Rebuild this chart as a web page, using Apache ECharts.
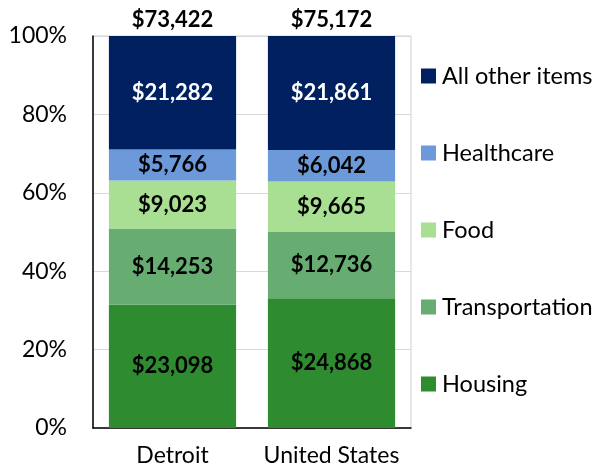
<!DOCTYPE html>
<html>
<head>
<meta charset="utf-8">
<script src="https://cdn.jsdelivr.net/npm/echarts@6/dist/echarts.min.js"></script>
<style>
  html, body { margin: 0; padding: 0; background: #fff; }
  #chart { width: 604px; height: 467px; }
</style>
</head>
<body>
<div id="chart"></div>
<script>
// Annual spending by category, in dollars
const categories = ['Detroit', 'United States'];
const housing = [23098, 24868];
const transportation = [14253, 12736];
const food = [9023, 9665];
const healthcare = [5766, 6042];
const otherItems = [21282, 21861];
const yTicks = [0, 20, 40, 60, 80, 100];

const seriesDefs = [
  { name: 'Housing', values: housing, color: '#2E8B30', labelColor: '#000' },
  { name: 'Transportation', values: transportation, color: '#67AD72', labelColor: '#000' },
  { name: 'Food', values: food, color: '#A9DF92', labelColor: '#000' },
  { name: 'Healthcare', values: healthcare, color: '#6C99DA', labelColor: '#000' },
  { name: 'All other items', values: otherItems, color: '#002060', labelColor: '#fff' }
];

const totals = categories.map((_, i) =>
  seriesDefs.reduce((s, d) => s + d.values[i], 0));

const money = v => '$' + v.toLocaleString('en-US');
const FONT = 'Lato';

const series = seriesDefs.map(d => ({
  name: d.name,
  type: 'bar',
  stack: 'total',
  barWidth: '80%',
  itemStyle: { color: d.color },
  data: d.values.map((v, i) => ({ value: v / totals[i] * 100, raw: v })),
  label: {
    show: true,
    position: 'inside',
    color: d.labelColor,
    fontFamily: FONT,
    fontWeight: 'bold',
    fontSize: 22,
    formatter: p => money(p.data.raw)
  }
}));

// Zero-height cap that carries the total above each bar
series.push({
  name: 'Total',
  type: 'bar',
  stack: 'total',
  barWidth: '80%',
  data: totals.map(t => ({ value: 0, raw: t })),
  label: {
    show: true,
    position: 'top',
    distance: 5,
    color: '#000',
    fontFamily: FONT,
    fontWeight: 'bold',
    fontSize: 22,
    formatter: p => money(p.data.raw)
  }
});

const chart = echarts.init(document.getElementById('chart'), null, { renderer: 'canvas' });
chart.setOption({
  animation: false,
  backgroundColor: '#fff',
  grid: { left: 93, right: 193, top: 36, bottom: 36, show: true, borderColor: '#d0d0d0', borderWidth: 1 },
  legend: {
    orient: 'vertical',
    left: 416,
    top: 59,
    itemWidth: 15,
    itemHeight: 15,
    itemGap: 53,
    icon: 'rect',
    data: ['All other items', 'Healthcare', 'Food', 'Transportation', 'Housing'],
    textStyle: { fontFamily: FONT, fontSize: 23.5, color: '#000', lineHeight: 20, padding: [0, 0, 0, 1] }
  },
  xAxis: {
    type: 'category',
    data: categories,
    axisLine: { lineStyle: { color: '#000', width: 1.5 } },
    axisTick: { show: false },
    axisLabel: { interval: 0, fontFamily: FONT, fontSize: 23, color: '#000', margin: 16 }
  },
  yAxis: {
    type: 'value',
    min: yTicks[0],
    max: yTicks[yTicks.length - 1],
    interval: yTicks[1] - yTicks[0],
    axisLine: { show: true, lineStyle: { color: '#000', width: 1.5 } },
    axisTick: { show: false },
    splitLine: { lineStyle: { color: '#d9d9d9' } },
    axisLabel: { fontFamily: FONT, fontSize: 23, color: '#000', margin: 26, formatter: '{value}%' }
  },
  series
});
</script>
</body>
</html>
